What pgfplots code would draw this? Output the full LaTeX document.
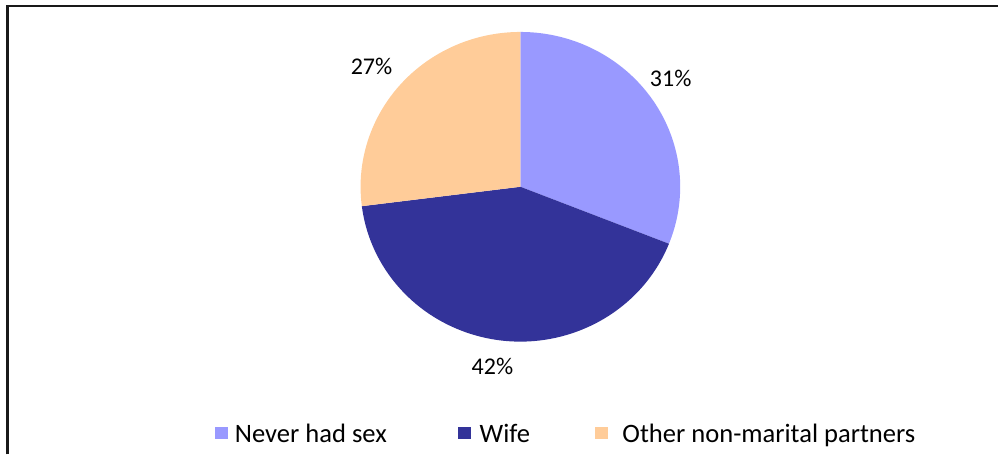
\documentclass[border=0pt]{standalone}
\usepackage{pgfplots}
\pgfplotsset{compat=1.18}
\usepackage{fontspec}
\setmainfont{Carlito}
\definecolor{neverc}{HTML}{9999FF}
\definecolor{wifec}{HTML}{333399}
\definecolor{otherc}{HTML}{FFCC99}
% shares (percent)
\def\vNever{31}
\def\vWife{42}
\def\vOther{27}
\begin{document}
\begin{tikzpicture}
\pgfmathsetmacro{\aA}{90}
\pgfmathsetmacro{\aB}{90-3.6*\vNever}
\pgfmathsetmacro{\aC}{\aB-3.6*\vWife}
\pgfmathsetmacro{\aD}{\aC-3.6*\vOther}
\begin{axis}[
  width=999bp, height=455bp, scale only axis,
  xmin=0, xmax=999, ymin=0, ymax=455,
  hide axis, clip=false,
]
\path (axis cs:0,0) (axis cs:999,455);
% frame
\draw[line width=2.4bp, black!90] (axis cs:7.7,0) -- (axis cs:7.7,449) -- (axis cs:999,449);
% pie
\fill[neverc] (axis cs:521,268) -- ++(\aA:160bp and 155bp) arc[start angle=\aA, end angle=\aB, x radius=160bp, y radius=155bp] -- cycle;
\fill[wifec] (axis cs:521,268) -- ++(\aB:160bp and 155bp) arc[start angle=\aB, end angle=\aC, x radius=160bp, y radius=155bp] -- cycle;
\fill[otherc] (axis cs:521,268) -- ++(\aC:160bp and 155bp) arc[start angle=\aC, end angle=\aD, x radius=160bp, y radius=155bp] -- cycle;
% data labels
\node[anchor=base, inner sep=0pt, font=\fontsize{24bp}{28bp}\selectfont] at (axis cs:671.5,368) {\vNever\%};
\node[anchor=base, inner sep=0pt, font=\fontsize{24bp}{28bp}\selectfont] at (axis cs:493,80) {\vWife\%};
\node[anchor=base, inner sep=0pt, font=\fontsize{24bp}{28bp}\selectfont] at (axis cs:372,380) {\vOther\%};
% legend
\fill[neverc] (axis cs:215,15) rectangle (axis cs:228,28);
\fill[wifec] (axis cs:459,15) rectangle (axis cs:472,28);
\fill[otherc] (axis cs:596,15) rectangle (axis cs:609,28);
\node[anchor=base west, inner sep=0pt, font=\fontsize{26.6bp}{30bp}\selectfont] at (axis cs:235,12) {Never had sex};
\node[anchor=base west, inner sep=0pt, font=\fontsize{26.6bp}{30bp}\selectfont] at (axis cs:480,12) {Wife};
\node[anchor=base west, inner sep=0pt, font=\fontsize{26.6bp}{30bp}\selectfont] at (axis cs:623,12) {Other non-marital partners};
\end{axis}
\end{tikzpicture}
\end{document}
